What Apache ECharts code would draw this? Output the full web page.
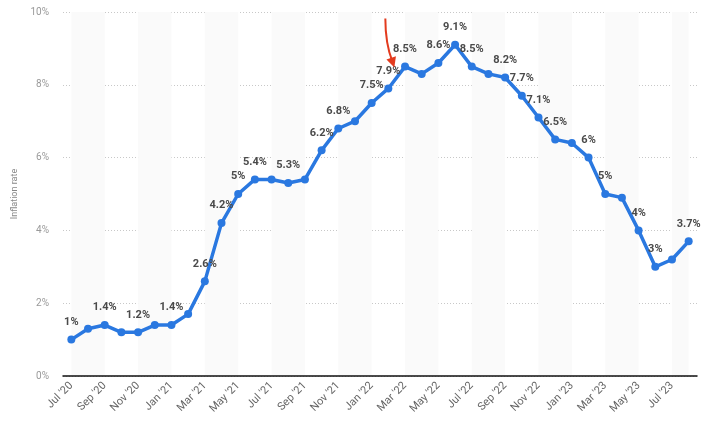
<!DOCTYPE html>
<html><head><meta charset="utf-8">
<script src="https://cdn.jsdelivr.net/npm/echarts@6/dist/echarts.min.js"></script>
<style>html,body{margin:0;padding:0;background:#fff}#c{width:713px;height:434px}</style>
</head><body><div id="c"></div>
<script>
const months = ["Jul '20","Aug '20","Sep '20","Oct '20","Nov '20","Dec '20","Jan '21","Feb '21","Mar '21","Apr '21","May '21","Jun '21","Jul '21","Aug '21","Sep '21","Oct '21","Nov '21","Dec '21","Jan '22","Feb '22","Mar '22","Apr '22","May '22","Jun '22","Jul '22","Aug '22","Sep '22","Oct '22","Nov '22","Dec '22","Jan '23","Feb '23","Mar '23","Apr '23","May '23","Jun '23","Jul '23","Aug '23"];
const inflation = [1.0,1.3,1.4,1.2,1.2,1.4,1.4,1.7,2.6,4.2,5.0,5.4,5.4,5.3,5.4,6.2,6.8,7.0,7.5,7.9,8.5,8.3,8.6,9.1,8.5,8.3,8.2,7.7,7.1,6.5,6.4,6.0,5.0,4.9,4.0,3.0,3.2,3.7];
const labeledMonths = ["Jul '20","Sep '20","Nov '20","Jan '21","Mar '21","Apr '21","May '21","Jun '21","Aug '21","Oct '21","Nov '21","Jan '22","Feb '22","Mar '22","May '22","Jun '22","Jul '22","Sep '22","Oct '22","Nov '22","Dec '22","Feb '23","Mar '23","May '23","Jun '23","Aug '23"];
const yTicks = [0,2,4,6,8,10];
const arrowMonth = "Feb '22";

// alternating shaded bands, every two months
const bands = [];
for (let i = 0; i < months.length; i += 4) {
  bands.push([{xAxis: months[i]}, {xAxis: months[Math.min(i + 2, months.length - 1)]}]);
}

const seriesData = inflation.map((v, i) => ({
  value: v,
  label: {show: labeledMonths.includes(months[i])}
}));

const chart = echarts.init(document.getElementById('c'));
chart.setOption({
  animation: false,
  grid: {left: 63, right: 16, top: 12, bottom: 58},
  xAxis: {
    type: 'category',
    data: months,
    boundaryGap: true,
    z: 10,
    axisLine: {lineStyle: {color: '#111', width: 1.5}},
    axisTick: {show: false},
    axisLabel: {interval: 1, rotate: 45, color: '#666', fontSize: 11, fontFamily: 'Roboto', margin: 8},
    splitLine: {show: false}
  },
  yAxis: {
    type: 'value',
    min: yTicks[0], max: yTicks[yTicks.length - 1], interval: 2,
    name: 'Inflation rate',
    nameLocation: 'middle',
    nameGap: 39,
    nameTextStyle: {color: '#888', fontSize: 9, fontFamily: 'Roboto'},
    axisLine: {show: false},
    axisTick: {show: false},
    axisLabel: {formatter: '{value}%', color: '#999', fontSize: 10, fontFamily: 'Roboto', margin: 14},
    splitLine: {lineStyle: {color: '#c8c8c8', type: [1, 2], width: 1}}
  },
  series: [{
    type: 'line',
    data: seriesData,
    symbol: 'circle',
    symbolSize: 8,
    lineStyle: {color: '#2a78e0', width: 3.5},
    itemStyle: {color: '#2a78e0'},
    label: {
      position: 'top', distance: 8,
      formatter: p => p.value + '%',
      color: '#4a4a4a', fontSize: 11, fontWeight: 'bold', fontFamily: 'Roboto'
    },
    markArea: {
      silent: true,
      itemStyle: {color: '#fafafa'},
      data: bands
    },
    z: 3
  }]
});

// red annotation arrow pointing at the Feb '22 value
const idx = months.indexOf(arrowMonth);
const p = chart.convertToPixel({seriesIndex: 0}, [idx, inflation[idx]]);
const s = [p[0] - 3, p[1] - 70];
const c1 = [p[0] - 3, p[1] - 45];
const e = [p[0] + 4, p[1] - 27];
const tip = [p[0] + 6, p[1] - 21];
const dx = tip[0] - (p[0] + 1), dy = tip[1] - (p[1] - 36);
const L = Math.hypot(dx, dy), ux = dx / L, uy = dy / L;
const bx = tip[0] - ux * 10, by = tip[1] - uy * 10;
chart.setOption({
  graphic: [
    {type: 'bezierCurve', shape: {x1: s[0], y1: s[1], x2: e[0], y2: e[1], cpx1: c1[0], cpy1: c1[1]},
     style: {stroke: '#e33b1e', lineWidth: 2, fill: null}, z: 10},
    {type: 'polygon', shape: {points: [tip, [bx - uy * 5, by + ux * 5], [bx + uy * 5, by - ux * 5]]},
     style: {fill: '#e33b1e'}, z: 10}
  ]
});
</script></body></html>
